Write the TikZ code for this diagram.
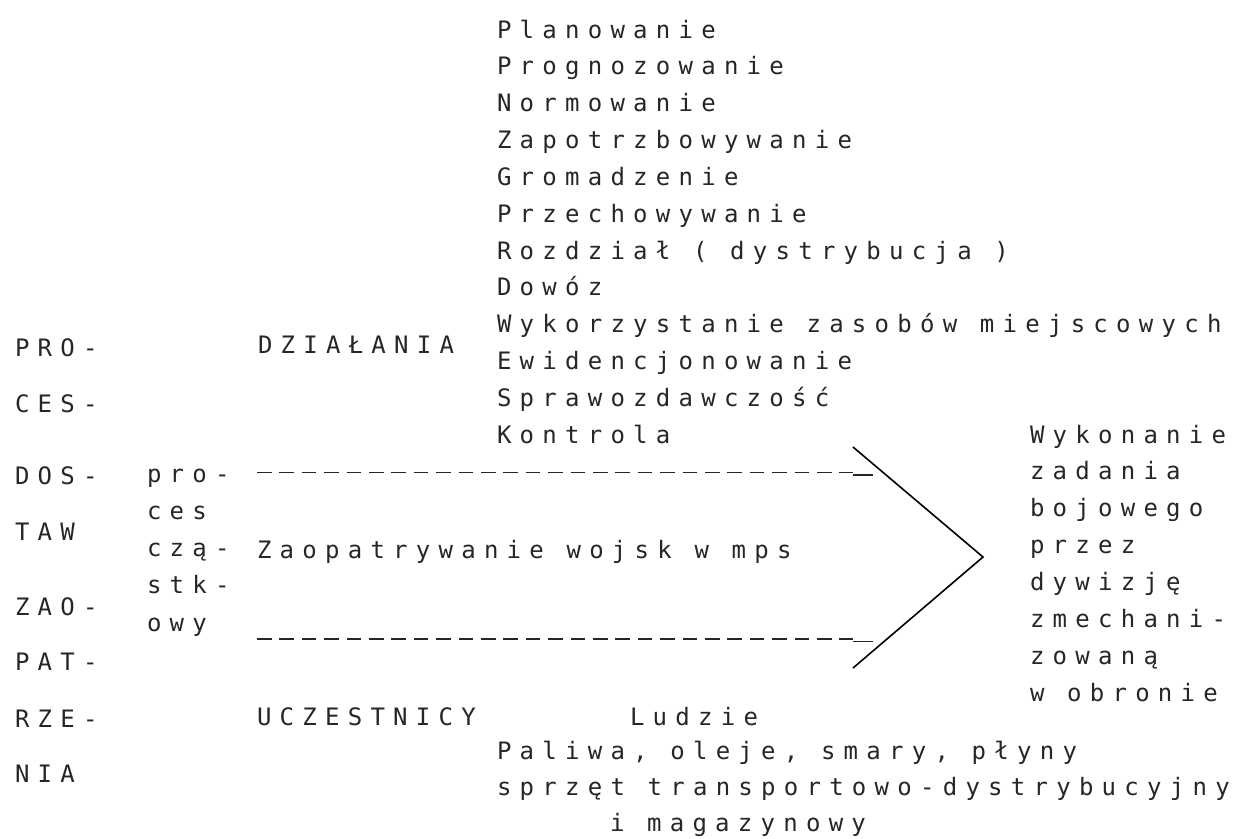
\documentclass[tikz,border=0pt]{standalone}
\usepackage{fontspec}
\newfontfamily\dmfont[LetterSpace=34.4]{DejaVu Sans Mono}
\newcommand\typewr{\dmfont\fontsize{24}{28}\selectfont\spaceskip 22.7pt\relax}
\tikzset{
  txt/.style={anchor=base west, inner sep=0pt, outer sep=0pt,
    font=\typewr, text=black!85},
  dashln/.style={line width=1.3pt, dash pattern=on 14.5pt off 7.9pt, black!85},
  uline/.style={line width=1.3pt, black!85},
  chev/.style={line width=1.6pt, black, line join=miter}
}
\begin{document}
\begin{tikzpicture}[x=1pt,y=1pt]
\useasboundingbox (0,0) rectangle (1233,-838);
% top list
\foreach \t [count=\i from 0] in {Planowanie,Prognozowanie,Normowanie,Zapotrzbowywanie,Gromadzenie,Przechowywanie,{Rozdział ( dystrybucja )},Dowóz,{Wykorzystanie zasobów miejscowych},Ewidencjonowanie,Sprawozdawczość,Kontrola}
  \node[txt] (top\i) at (497,{-(38+36.85*\i)}) {\t};
% left column
\foreach \t/\yy [count=\i] in {PRO-/356,CES-/412,DOS-/484,TAW/540,ZAO-/615,PAT-/670,RZE-/727,NIA/782}
  \node[txt] (left\i) at (15,-\yy) {\t};
\node[txt] (dzial) at (258,-353) {DZIAŁANIA};
% middle column
\foreach \t [count=\i from 0] in {pro-,ces,czą-,stk-,owy}
  \node[txt] (mid\i) at (147,{-(482+37.3*\i)}) {\t};
\node[txt] (zaop) at (257,-558) {Zaopatrywanie wojsk w mps};
\node[txt] (ucz) at (257,-725) {UCZESTNICY};
\node[txt] (ludzie) at (630,-725) {Ludzie};
\node[txt] (pal) at (497,-759) {Paliwa, oleje, smary, płyny};
\node[txt] (sprz) at (497,-795) {sprzęt transportowo-dystrybucyjny};
\node[txt] (mag) at (610,-831) {i magazynowy};
% right column
\foreach \t [count=\i from 0] in {Wykonanie,zadania,bojowego,przez,dywizję,zmechani-,zowaną,w obronie}
  \node[txt] (res\i) at (1030,{-(443+36.9*\i)}) {\t};
% dashed lines
\coordinate (d1a) at (257,-472.5);
\coordinate (d1b) at (853,-472.5);
\coordinate (u1a) at (853,-475);
\coordinate (u1b) at (873,-475);
\coordinate (d2a) at (257,-639);
\coordinate (d2b) at (853,-639);
\coordinate (u2a) at (853,-641.5);
\coordinate (u2b) at (873,-641.5);
\draw[dashln] (d1a) -- (d1b);
\draw[uline] (u1a) -- (u1b);
\draw[dashln] (d2a) -- (d2b);
\draw[uline] (u2a) -- (u2b);
% chevron
\coordinate (cA) at (853,-447);
\coordinate (cB) at (983,-557);
\coordinate (cC) at (853,-668);
\draw[chev] (cA) -- (cB) -- (cC);
\end{tikzpicture}
\end{document}
